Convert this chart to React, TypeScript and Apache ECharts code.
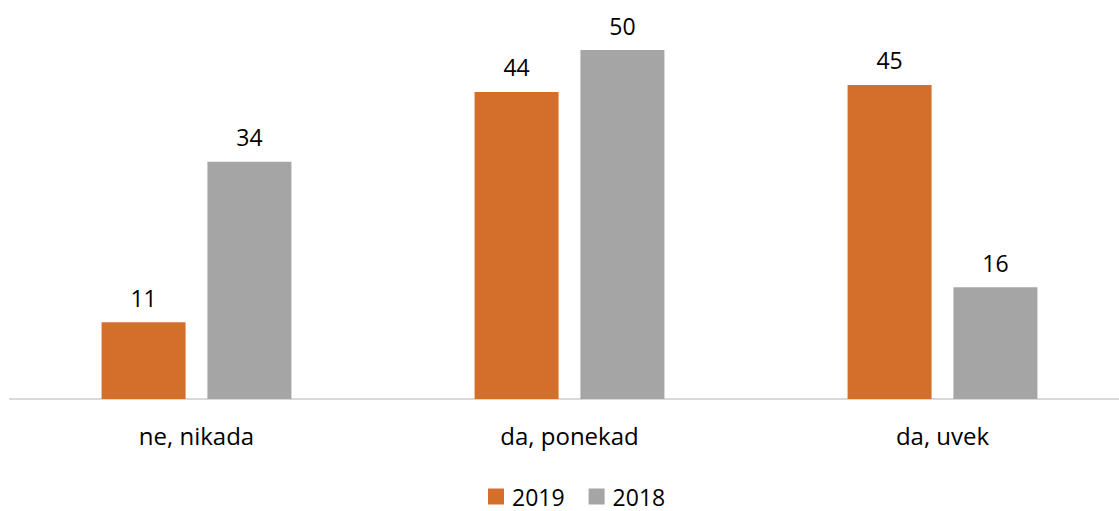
import React, { useEffect, useRef } from "react";
import * as echarts from "echarts";

const categories = ["ne, nikada", "da, ponekad", "da, uvek"];
const values2019 = [11, 44, 45];
const values2018 = [34, 50, 16];
const seriesNames = ["2019", "2018"];

const FONT = "'Open Sans', 'Noto Sans', sans-serif";

export default function App() {
  const ref = useRef<HTMLDivElement>(null);
  useEffect(() => {
    if (!ref.current) return;
    const chart = echarts.init(ref.current, undefined, { renderer: "svg" });
    const label = {
      show: true,
      position: "top" as const,
      distance: 13,
      color: "#000",
      fontSize: 23,
      fontFamily: FONT,
    };
    chart.setOption({
      animation: false,
      backgroundColor: "#fff",
      grid: { left: 10, top: 50, right: 0, bottom: 112, containLabel: false },
      legend: {
        data: seriesNames,
        bottom: -2,
        left: 483,
        itemWidth: 16,
        itemHeight: 16,
        itemGap: 24,
        icon: "rect",
        textStyle: { fontSize: 23, fontFamily: FONT, color: "#000", padding: [0, 0, 0, 3] },
      },
      xAxis: {
        type: "category",
        data: categories,
        axisLine: { show: true, lineStyle: { color: "#d9d9d9", width: 2 } },
        axisTick: { show: false },
        axisLabel: { fontSize: 24, fontFamily: FONT, color: "#000", margin: 24 },
      },
      yAxis: {
        type: "value",
        min: 0,
        max: 50,
        show: false,
        splitLine: { show: false },
      },
      series: [
        {
          name: seriesNames[0],
          type: "bar",
          data: values2019,
          barWidth: 84,
          barGap: "26%",
          itemStyle: { color: "#D46E2B" },
          label,
        },
        {
          name: seriesNames[1],
          type: "bar",
          data: values2018,
          barWidth: 84,
          barGap: "26%",
          itemStyle: { color: "#A5A5A5" },
          label,
        },
      ],
    });
    return () => chart.dispose();
  }, []);
  return (
    <div
      style={{
        position: "fixed",
        left: 0,
        top: 0,
        width: 1119,
        height: 511,
        overflow: "hidden",
      }}
    >
      <div ref={ref} style={{ width: 1129, height: 511 }} />
    </div>
  );
}
